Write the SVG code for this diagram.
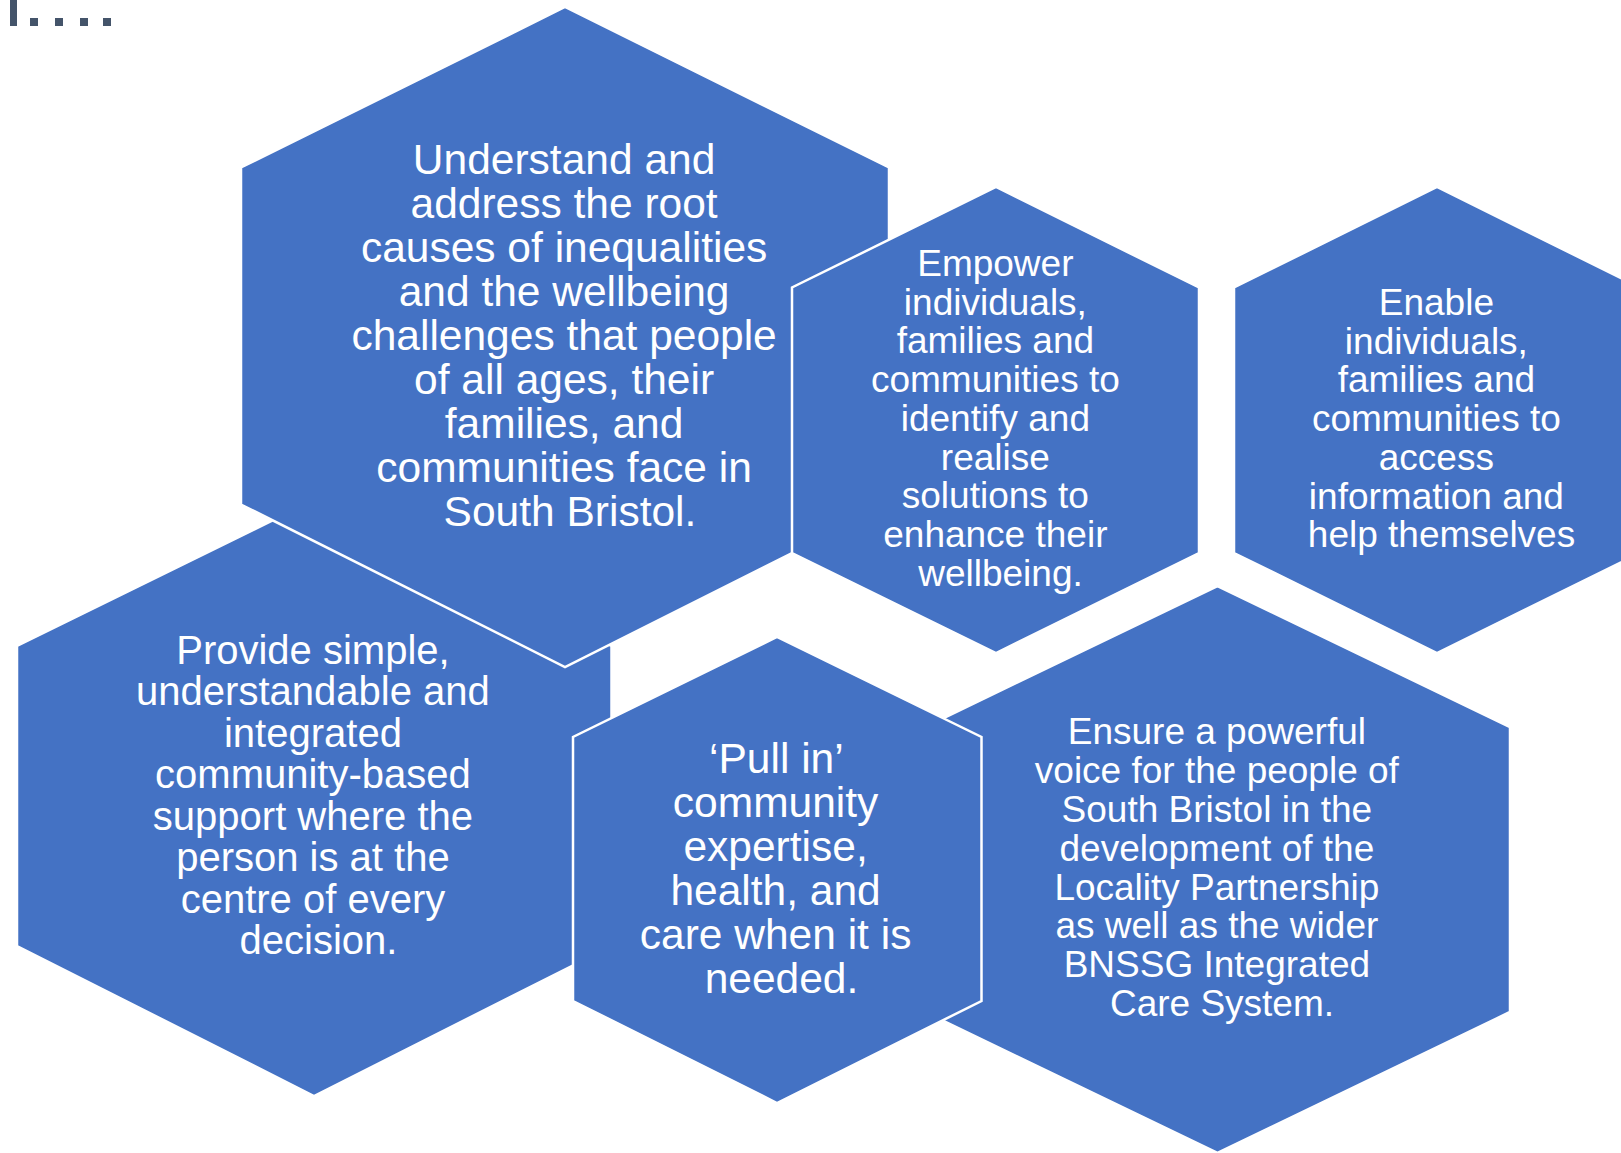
<svg xmlns="http://www.w3.org/2000/svg" width="1621" height="1153" viewBox="0 0 1621 1153">
<style>
.hex{fill:#4472C4;stroke:#FFFFFF;stroke-width:2.5;stroke-linejoin:miter}
.t{fill:#FFFFFF;font-family:"Liberation Sans",Arial,Helvetica,sans-serif;text-anchor:middle}
.deco{fill:#44546A}
</style>
<rect width="1621" height="1153" fill="#FFFFFF"/>
<g id="decoration">
<rect class="deco" x="10" y="0" width="7" height="26"/>
<rect class="deco" x="30" y="18" width="8" height="8"/>
<rect class="deco" x="55" y="18" width="8" height="8"/>
<rect class="deco" x="80" y="18" width="8" height="8"/>
<rect class="deco" x="103" y="18" width="8" height="8"/>
</g>
<g id="connectors"></g>
<g id="node-provide">
<polygon class="hex" points="314,500 611.5,646 611.5,946 314,1096 17,946 17,646"/>
<text class="t" font-size="40" x="318.5">
<tspan x="318.5" y="663.5">Provide simple,</tspan>
<tspan x="318.5" y="705">understandable and</tspan>
<tspan x="318.5" y="746.5">integrated</tspan>
<tspan x="318.5" y="788">community-based</tspan>
<tspan x="318.5" y="829.5">support where the</tspan>
<tspan x="318.5" y="871">person is at the</tspan>
<tspan x="318.5" y="912.5">centre of every</tspan>
<tspan x="318.5" y="954">decision.</tspan>
</text>
</g>
<g id="node-understand">
<polygon class="hex" points="565,7 889,167.5 889,504.5 565,667 241,504.5 241,167.5"/>
<text class="t" font-size="42.5" x="570">
<tspan x="570" y="173.5">Understand and</tspan>
<tspan x="570" y="217.6">address the root</tspan>
<tspan x="570" y="261.7">causes of inequalities</tspan>
<tspan x="570" y="305.8">and the wellbeing</tspan>
<tspan x="570" y="349.9">challenges that people</tspan>
<tspan x="570" y="394">of all ages, their</tspan>
<tspan x="570" y="438.1">families, and</tspan>
<tspan x="570" y="482.2">communities face in</tspan>
<tspan x="570" y="526.3">South Bristol.</tspan>
</text>
</g>
<g id="node-empower">
<polygon class="hex" points="996,187 1199,287.5 1199,553 996,653 792,553 792,287.5"/>
<text class="t" font-size="37" x="1000.5">
<tspan x="1000.5" y="276">Empower</tspan>
<tspan x="1000.5" y="314.7">individuals,</tspan>
<tspan x="1000.5" y="353.4">families and</tspan>
<tspan x="1000.5" y="392.1">communities to</tspan>
<tspan x="1000.5" y="430.8">identify and</tspan>
<tspan x="1000.5" y="469.5">realise</tspan>
<tspan x="1000.5" y="508.2">solutions to</tspan>
<tspan x="1000.5" y="546.9">enhance their</tspan>
<tspan x="1000.5" y="585.6">wellbeing.</tspan>
</text>
</g>
<g id="node-enable">
<polygon class="hex" points="1437,187 1640,287.5 1640,553 1437,653 1234,553 1234,287.5"/>
<text class="t" font-size="37" x="1441.5">
<tspan x="1441.5" y="315">Enable</tspan>
<tspan x="1441.5" y="353.7">individuals,</tspan>
<tspan x="1441.5" y="392.4">families and</tspan>
<tspan x="1441.5" y="431.1">communities to</tspan>
<tspan x="1441.5" y="469.8">access</tspan>
<tspan x="1441.5" y="508.5">information and</tspan>
<tspan x="1441.5" y="547.2">help themselves</tspan>
</text>
</g>
<g id="node-ensure">
<polygon class="hex" points="1217.5,586 1510,727 1510,1012 1217.5,1153 925,1012 925,727"/>
<text class="t" font-size="37" x="1222">
<tspan x="1222" y="744.3">Ensure a powerful</tspan>
<tspan x="1222" y="783.1">voice for the people of</tspan>
<tspan x="1222" y="821.9">South Bristol in the</tspan>
<tspan x="1222" y="860.7">development of the</tspan>
<tspan x="1222" y="899.5">Locality Partnership</tspan>
<tspan x="1222" y="938.3">as well as the wider</tspan>
<tspan x="1222" y="977.1">BNSSG Integrated</tspan>
<tspan x="1222" y="1015.9">Care System.</tspan>
</text>
</g>
<g id="node-pullin">
<polygon class="hex" points="777,637 981.5,737 981.5,1001 777,1103 573,1001 573,737"/>
<text class="t" font-size="42.5" x="781.5">
<tspan x="781.5" y="772.7">‘Pull in’</tspan>
<tspan x="781.5" y="816.8">community</tspan>
<tspan x="781.5" y="860.9">expertise,</tspan>
<tspan x="781.5" y="905">health, and</tspan>
<tspan x="781.5" y="949.1">care when it is</tspan>
<tspan x="781.5" y="993.2">needed.</tspan>
</text>
</g>
</svg>
